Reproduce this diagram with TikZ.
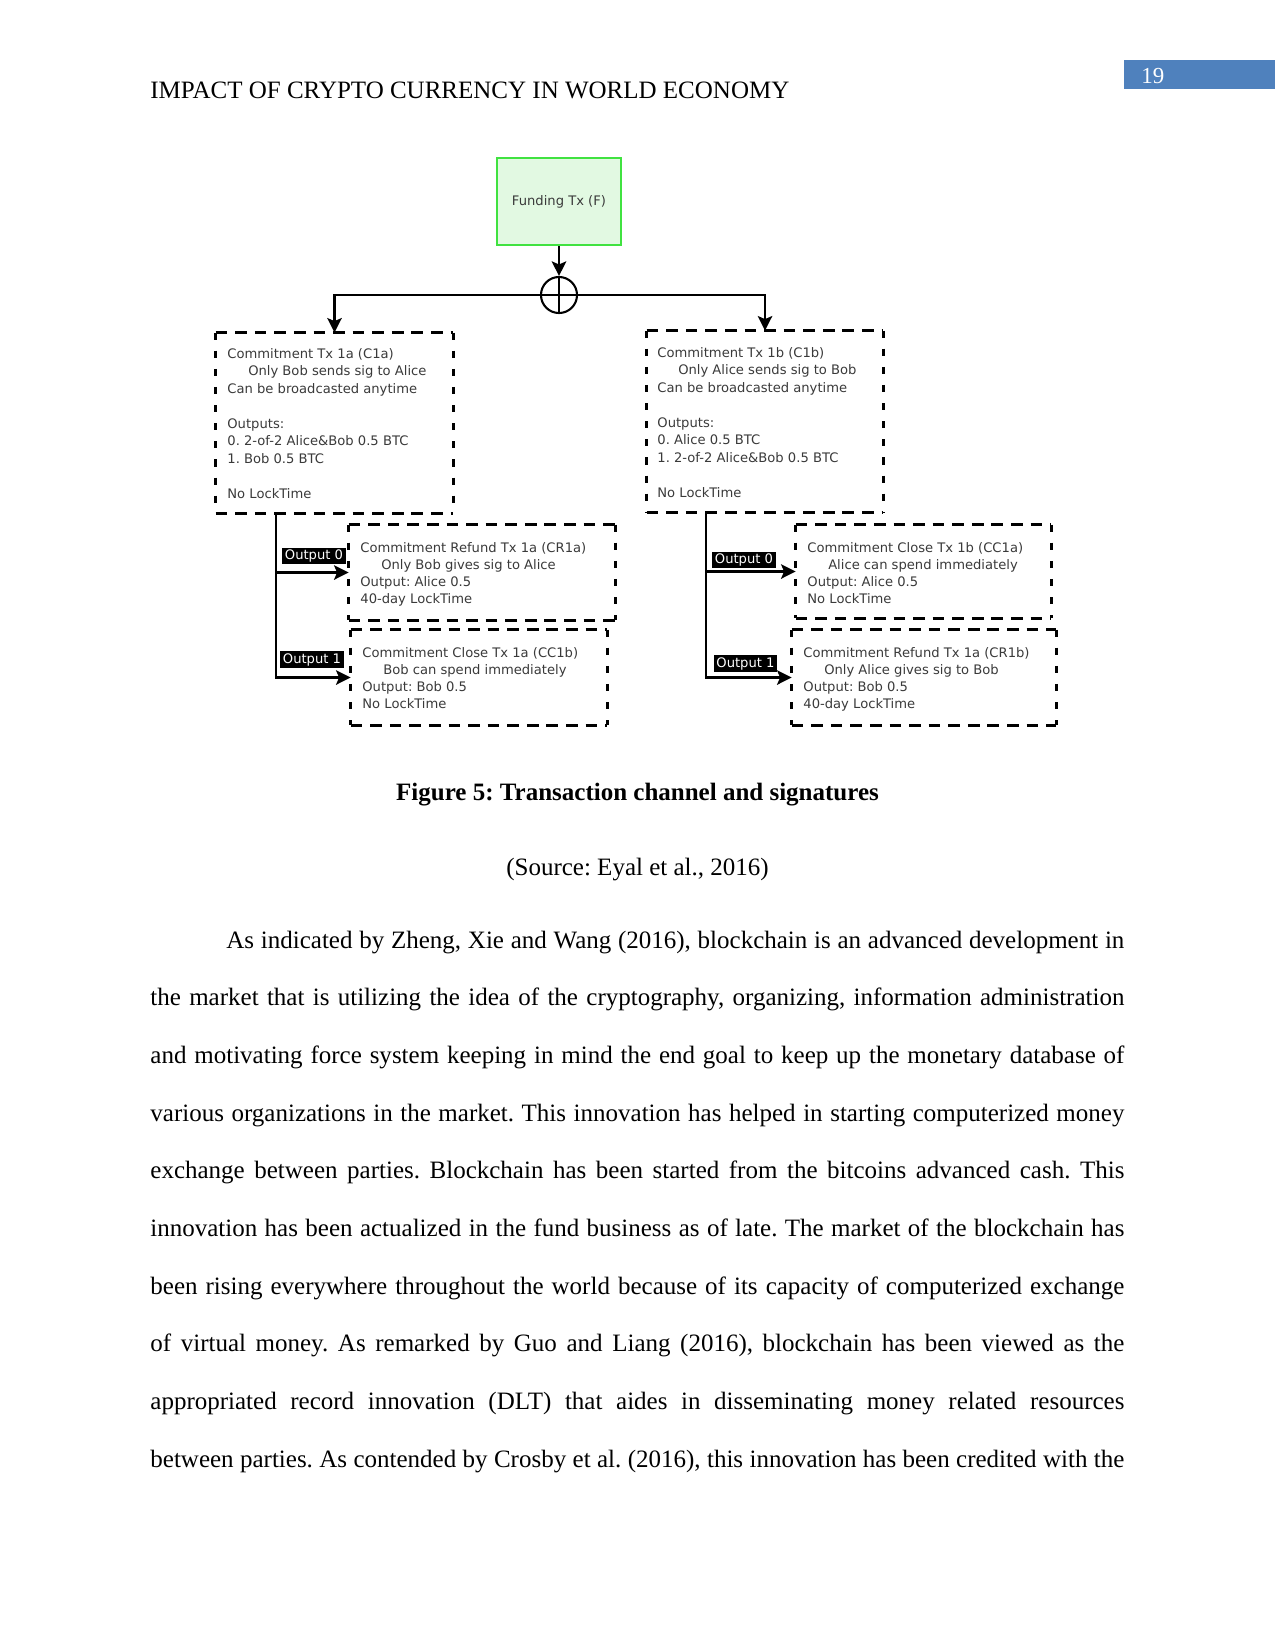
\documentclass[tikz,border=0pt]{standalone}
\usepackage{fontspec}
\setmainfont{Liberation Serif}
\newfontfamily\dvs{DejaVu Sans}
\usetikzlibrary{arrows.meta,fit,calc}
\definecolor{fundfill}{RGB}{226,249,226}
\definecolor{funddraw}{RGB}{64,226,64}
\definecolor{pgblue}{RGB}{79,129,189}
\definecolor{dgray}{RGB}{58,58,58}
\frenchspacing
\newcommand\dbord[1]{%
  \draw[hdash] (#1.north west) -- (#1.north east);
  \draw[hdash] (#1.south west) -- (#1.south east);
  \draw[vdash] (#1.north west) -- (#1.south west);
  \draw[vdash] (#1.north east) -- (#1.south east);}
\begin{document}
\begin{tikzpicture}[x=0.48bp,y=-0.48bp,
  hdash/.style={line width=1.1bp,dash pattern=on 5.6bp off 3.8bp},
  vdash/.style={line width=1.1bp,dash pattern=on 3.4bp off 5.3bp},
  dregion/.style={inner sep=0pt,draw=none},
  dtext/.style={font=\dvs\fontsize{6.3bp}{8.4bp}\selectfont,text=dgray,align=left,inner sep=0pt,anchor=north west},
  stext/.style={font=\dvs\fontsize{6.3bp}{8.2bp}\selectfont,text=dgray,align=left,inner sep=0pt,anchor=north west},
  conn/.style={line width=1bp,black},
  arr/.style={conn,-{Stealth[length=7bp,width=7bp,inset=1.5bp]}},
  outlbl/.style={fill=black,text=white,font=\dvs\fontsize{6.3bp}{7bp}\selectfont,inner xsep=1.2bp,inner ysep=1bp},
  bodyline/.style={font=\fontsize{12bp}{14bp}\selectfont,inner sep=0pt,anchor=base west},
  centline/.style={font=\fontsize{12bp}{14bp}\selectfont,inner sep=0pt,anchor=base}]
\useasboundingbox (0,0) rectangle (1275,1650);
\fill[white] (0,0) rectangle (1275,1650);

% header
\node[bodyline] (hdr) at (150,98.5) {IMPACT OF CRYPTO CURRENCY IN WORLD ECONOMY};
\node[fill=pgblue,inner sep=0pt,fit={(1124,60) (1275,89)}] (pg) {};
\node[font=\fontsize{11bp}{13bp}\selectfont,text=white,inner sep=0pt,anchor=base west] (pgnum) at (1141,83) {19};

% funding
\node[draw=funddraw,fill=fundfill,line width=1.2bp,minimum width=59.5bp,minimum height=41.8bp,inner sep=0pt,
  font=\dvs\fontsize{6.3bp}{8bp}\selectfont,text=dgray] (F) at (559,201.5) {Funding Tx (F)};
\node[circle,draw,line width=1bp,minimum size=17.3bp,inner sep=0pt] (X) at (559,295) {};
\draw[conn] (X.north) -- (X.south);
\draw[conn] (X.west) -- (X.east);
\draw[arr] (F.south) -- (X.north);

% boxes
\node[dregion,fit={(216,333) (453,513)}] (C1a) {};
\node[dregion,fit={(647,331) (883,512)}] (C1b) {};
\node[dregion,fit={(349,525) (615,620)}] (CR1a) {};
\node[dregion,fit={(351,630) (607,725)}] (CC1b) {};
\node[dregion,fit={(796,525) (1051,618)}] (CC1a) {};
\node[dregion,fit={(792,630) (1056,725)}] (CR1b) {};
\dbord{C1a}\dbord{C1b}\dbord{CR1a}\dbord{CC1b}\dbord{CC1a}\dbord{CR1b}

\node[dtext] (C1at) at (227,347.8) {Commitment Tx 1a (C1a)\\\hspace*{10bp}Only Bob sends sig to Alice\\Can be broadcasted anytime\\[8.4bp]Outputs:\\0. 2-of-2 Alice\&Bob 0.5 BTC\\1. Bob 0.5 BTC\\[8.4bp]No LockTime};
\node[dtext] (C1bt) at (657,346.8) {Commitment Tx 1b (C1b)\\\hspace*{10bp}Only Alice sends sig to Bob\\Can be broadcasted anytime\\[8.4bp]Outputs:\\0. Alice 0.5 BTC\\1. 2-of-2 Alice\&Bob 0.5 BTC\\[8.4bp]No LockTime};
\node[stext] (CR1at) at (360,541.8) {Commitment Refund Tx 1a (CR1a)\\\hspace*{10bp}Only Bob gives sig to Alice\\Output: Alice 0.5\\40-day LockTime};
\node[stext] (CC1bt) at (362,646.8) {Commitment Close Tx 1a (CC1b)\\\hspace*{10bp}Bob can spend immediately\\Output: Bob 0.5\\No LockTime};
\node[stext] (CC1at) at (807,541.8) {Commitment Close Tx 1b (CC1a)\\\hspace*{10bp}Alice can spend immediately\\Output: Alice 0.5\\No LockTime};
\node[stext] (CR1bt) at (803,646.8) {Commitment Refund Tx 1a (CR1b)\\\hspace*{10bp}Only Alice gives sig to Bob\\Output: Bob 0.5\\40-day LockTime};

% connectors
\draw[arr] (X.west) -| (C1a.north);
\draw[arr] (X.east) -| (C1b.north);
\coordinate (tapL) at ($(C1a.south west)+(60,0)$);
\coordinate (tapR) at ($(C1b.south west)+(59,0)$);
\draw[arr] (tapL) |- (CR1a.west);
\draw[arr] (tapL) |- (CC1b.west);
\draw[arr] (tapR) |- (CC1a.west);
\draw[arr] (tapR) |- (CR1b.west);
\node[outlbl] (o0L) at (314,556) {Output 0};
\node[outlbl] (o1L) at (312,659.5) {Output 1};
\node[outlbl] (o0R) at (744,560) {Output 0};
\node[outlbl] (o1R) at (745.5,663.5) {Output 1};

% caption
\node[centline,font=\bfseries\fontsize{12bp}{14bp}\selectfont] (cap) at (637.5,800) {Figure 5: Transaction channel and signatures};
\node[centline] (src) at (637.5,875) {(Source: Eyal et al., 2016)};

% body
\node[bodyline] (l1) at (226,948) {\makebox[431bp][s]{As indicated by Zheng, Xie and Wang (2016), blockchain is an advanced development in}};
\node[bodyline] (l2) at (150,1005.7) {\makebox[467.5bp][s]{the market that is utilizing the idea of the cryptography, organizing, information administration}};
\node[bodyline] (l3) at (150,1063.3) {\makebox[467.5bp][s]{and motivating force system keeping in mind the end goal to keep up the monetary database of}};
\node[bodyline] (l4) at (150,1121) {\makebox[467.5bp][s]{various organizations in the market. This innovation has helped in starting computerized money}};
\node[bodyline] (l5) at (150,1178.7) {\makebox[467.5bp][s]{exchange between parties. Blockchain has been started from the bitcoins advanced cash. This}};
\node[bodyline] (l6) at (150,1236.3) {\makebox[467.5bp][s]{innovation has been actualized in the fund business as of late. The market of the blockchain has}};
\node[bodyline] (l7) at (150,1294) {\makebox[467.5bp][s]{been rising everywhere throughout the world because of its capacity of computerized exchange}};
\node[bodyline] (l8) at (150,1351.7) {\makebox[467.5bp][s]{of virtual money. As remarked by Guo and Liang (2016), blockchain has been viewed as the}};
\node[bodyline] (l9) at (150,1409.3) {\makebox[467.5bp][s]{appropriated record innovation (DLT) that aides in disseminating money related resources}};
\node[bodyline] (l10) at (150,1467) {\makebox[467.5bp][s]{between parties. As contended by Crosby et al. (2016), this innovation has been credited with the}};
\end{tikzpicture}
\end{document}
